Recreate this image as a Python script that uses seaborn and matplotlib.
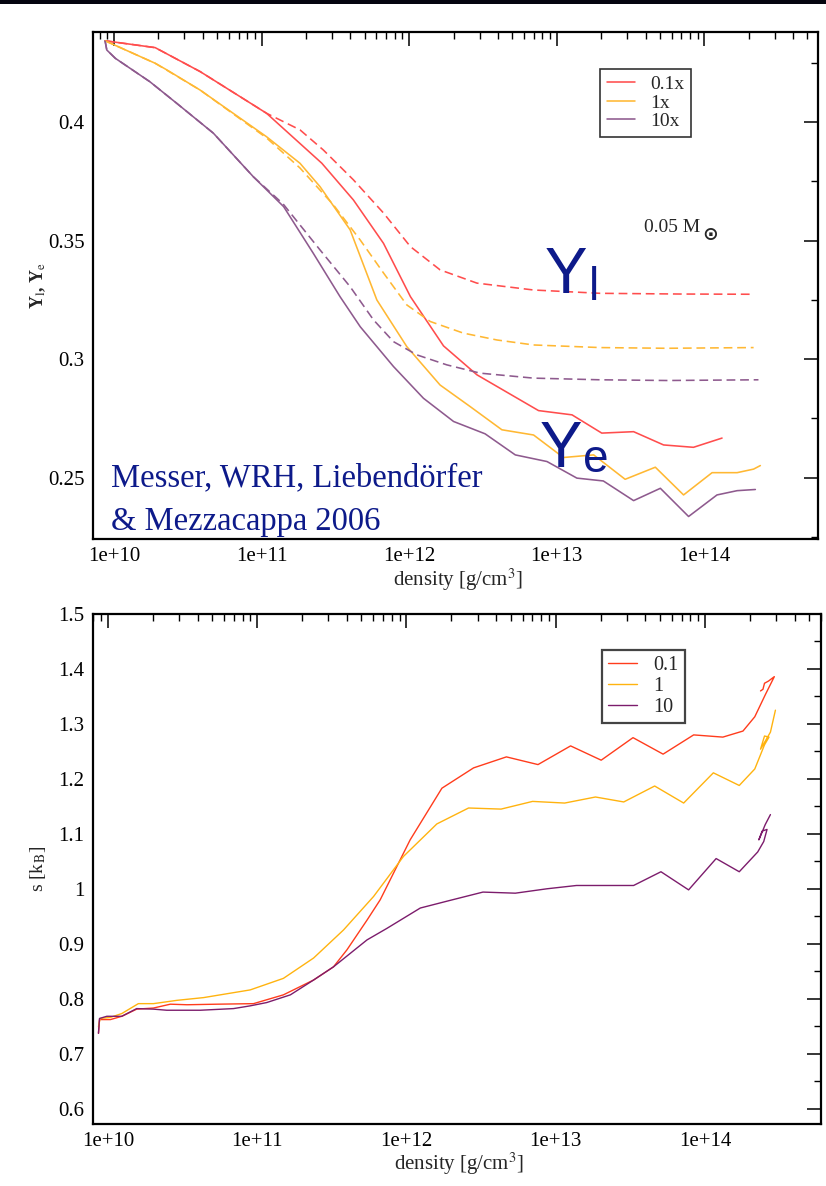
import matplotlib
matplotlib.use("Agg")
import matplotlib.pyplot as plt
from matplotlib.patches import Rectangle
from matplotlib.ticker import FixedLocator, MultipleLocator, FuncFormatter, LogLocator, NullFormatter
import numpy as np
import pandas as pd
import seaborn as sns

# ---------------- data: electron / lepton fraction vs density ----------------
ye_rho_01 = [8.69e9, 1.90e10, 3.83e10, 1.08e11, 2.56e11, 4.19e11, 6.70e11, 1.02e12, 1.71e12,
             2.88e12, 7.53e12, 1.27e13, 2.02e13, 3.32e13, 5.30e13, 8.45e13, 1.32e14]
ye_01 = [0.4344, 0.4315, 0.4214, 0.4038, 0.3827, 0.3672, 0.3489, 0.3264, 0.3056,
         0.2934, 0.2783, 0.2765, 0.2688, 0.2694, 0.2638, 0.2628, 0.2667]

yl_rho_01 = [8.69e9, 1.90e10, 3.83e10, 1.08e11, 1.82e11, 2.62e11, 4.19e11, 6.70e11, 1.02e12,
             1.62e12, 2.88e12, 6.97e12, 1.97e13, 6.87e13, 2.16e14]
yl_01 = [0.4344, 0.4315, 0.4214, 0.4038, 0.3968, 0.3883, 0.3757, 0.3617, 0.3475,
         0.3377, 0.3321, 0.3292, 0.3278, 0.3275, 0.3274]

ye_rho_1 = [8.69e9, 1.90e10, 2.28e10, 3.83e10, 1.08e11, 1.82e11, 2.49e11, 3.98e11, 6.04e11,
            9.64e11, 1.62e12, 2.59e12, 4.25e12, 6.97e12, 1.11e13, 1.78e13, 2.91e13, 4.66e13,
            7.24e13, 1.13e14, 1.67e14, 2.16e14, 2.40e14]
ye_1 = [0.4344, 0.4249, 0.4221, 0.4136, 0.3939, 0.3827, 0.3728, 0.3546, 0.3250,
        0.3053, 0.2891, 0.2800, 0.2702, 0.2680, 0.2585, 0.2596, 0.2493, 0.2544,
        0.2427, 0.2521, 0.2521, 0.2536, 0.2551]

yl_rho_1 = [8.69e9, 1.90e10, 3.83e10, 1.08e11, 1.82e11, 3.07e11, 4.66e11, 6.70e11, 9.64e11,
            1.39e12, 2.33e12, 3.94e12, 6.97e12, 1.97e13, 5.58e13, 2.16e14]
yl_1 = [0.4344, 0.4249, 0.4136, 0.3934, 0.3807, 0.3651, 0.3503, 0.3364, 0.3229,
        0.3159, 0.3110, 0.3081, 0.3060, 0.3049, 0.3046, 0.3049]

ye_rho_10 = [8.69e9, 8.93e9, 1.02e10, 1.75e10, 2.66e10, 4.71e10, 8.79e10, 1.41e11, 2.24e11,
             3.40e11, 4.66e11, 7.83e11, 1.25e12, 2.00e12, 3.27e12, 5.24e12, 8.59e12, 1.37e13,
             2.07e13, 3.32e13, 5.04e13, 7.83e13, 1.22e14, 1.67e14, 2.22e14]
ye_10 = [0.4344, 0.4305, 0.4270, 0.4171, 0.4080, 0.3954, 0.3770, 0.3644, 0.3447,
         0.3264, 0.3137, 0.2969, 0.2835, 0.2737, 0.2685, 0.2596, 0.2568, 0.2498,
         0.2486, 0.2403, 0.2455, 0.2336, 0.2427, 0.2445, 0.2450]

yl_rho_10 = [8.69e9, 8.93e9, 1.02e10, 1.75e10, 2.66e10, 4.71e10, 8.79e10, 1.40e11, 2.49e11,
             3.98e11, 5.73e11, 7.83e11, 1.13e12, 1.80e12, 3.03e12, 6.97e12, 1.97e13, 5.58e13,
             2.33e14]
yl_10 = [0.4344, 0.4305, 0.4270, 0.4171, 0.4080, 0.3954, 0.3770, 0.3655, 0.3461,
         0.3306, 0.3166, 0.3074, 0.3018, 0.2976, 0.2941, 0.2920, 0.2913, 0.2910, 0.2913]

# ---------------- data: entropy vs density ----------------
s_rho_01 = [8.65e9, 8.79e9, 1.04e10, 1.24e10, 1.56e10, 2.02e10, 2.62e10, 3.39e10, 5.38e10,
            9.46e10, 1.50e11, 2.39e11, 3.25e11, 4.00e11, 5.45e11, 6.68e11, 1.06e12, 1.73e12,
            2.82e12, 4.68e12, 7.62e12, 1.26e13, 2.02e13, 3.30e13, 5.25e13, 8.41e13, 1.32e14,
            1.80e14, 2.16e14, 2.55e14, 2.92e14, 2.67e14, 2.51e14, 2.45e14, 2.36e14]
s_01 = [0.737, 0.762, 0.762, 0.768, 0.781, 0.783, 0.790, 0.789, 0.790,
        0.791, 0.807, 0.834, 0.858, 0.889, 0.943, 0.980, 1.089, 1.183,
        1.220, 1.240, 1.226, 1.260, 1.234, 1.275, 1.245, 1.280, 1.276,
        1.287, 1.313, 1.354, 1.386, 1.378, 1.374, 1.363, 1.360]

s_rho_1 = [8.65e9, 8.87e9, 1.04e10, 1.24e10, 1.60e10, 2.02e10, 2.90e10, 4.38e10, 5.66e10,
           8.99e10, 1.50e11, 2.39e11, 3.79e11, 6.03e11, 9.57e11, 1.60e12, 2.61e12, 4.31e12,
           7.01e12, 1.15e13, 1.85e13, 2.86e13, 4.61e13, 7.21e13, 1.14e14, 1.70e14, 2.16e14,
           2.51e14, 2.69e14, 2.51e14, 2.36e14, 2.58e14, 2.75e14, 2.97e14]
s_1 = [0.749, 0.764, 0.766, 0.773, 0.791, 0.791, 0.797, 0.802, 0.807,
       0.816, 0.837, 0.874, 0.925, 0.986, 1.059, 1.118, 1.147, 1.145,
       1.159, 1.156, 1.167, 1.158, 1.187, 1.156, 1.211, 1.188, 1.218,
       1.262, 1.276, 1.278, 1.254, 1.272, 1.285, 1.325]

s_rho_10 = [8.65e9, 8.79e9, 9.84e9, 1.24e10, 1.56e10, 2.02e10, 2.48e10, 4.16e10, 6.95e10,
            8.99e10, 1.16e11, 1.67e11, 2.39e11, 3.25e11, 5.45e11, 7.41e11, 1.24e12, 1.97e12,
            3.26e12, 5.37e12, 8.75e12, 1.38e13, 3.33e13, 5.08e13, 7.78e13, 1.19e14, 1.70e14,
            2.26e14, 2.48e14, 2.61e14, 2.42e14, 2.30e14, 2.54e14, 2.75e14]
s_10 = [0.737, 0.764, 0.768, 0.768, 0.782, 0.781, 0.779, 0.779, 0.782,
        0.787, 0.793, 0.807, 0.834, 0.858, 0.907, 0.928, 0.965, 0.979,
        0.994, 0.992, 1.000, 1.006, 1.006, 1.031, 0.998, 1.055, 1.031,
        1.067, 1.086, 1.108, 1.105, 1.089, 1.117, 1.135]

top_labels = ["0.1x", "1x", "10x"]
bottom_labels = ["0.1", "1", "10"]

# ---------------- style ----------------
sns.set_theme(style="white")
plt.rcParams["font.family"] = ["Liberation Serif", "DejaVu Serif"]
plt.rcParams["mathtext.fontset"] = "stix"

top_colors = ["#ff4d4d", "#ffb833", "#8e5a8e"]
bot_colors = ["#ff3c1c", "#ffb30f", "#7c1c6c"]
NAVY = "#0d1a8a"

W, H = 826, 1186
fig = plt.figure(figsize=(W / 100, H / 100), dpi=100)
fig.patch.set_facecolor("white")

ax1 = fig.add_axes([93 / W, 1 - 539 / H, 725 / W, 507 / H])
ax2 = fig.add_axes([93 / W, 1 - 1124 / H, 728 / W, 510 / H])

for ax in (ax1, ax2):
    ax.set_xscale("log")


def curve(ax, rho, val, color, lw, label=None, dashed=False):
    df = pd.DataFrame({"rho": rho, "val": val})
    kws = dict(linestyle=(0, (5.5, 3.0))) if dashed else {}
    sns.lineplot(data=df, x="rho", y="val", sort=False, estimator=None, color=color,
                 linewidth=lw, ax=ax, label=label, legend=False, **kws)


# top panel: solid = Y_e, dashed = Y_l
for rho, val, c, lab in zip([ye_rho_01, ye_rho_1, ye_rho_10], [ye_01, ye_1, ye_10],
                            top_colors, top_labels):
    curve(ax1, rho, val, c, 1.15, label=lab)
for rho, val, c in zip([yl_rho_01, yl_rho_1, yl_rho_10], [yl_01, yl_1, yl_10], top_colors):
    curve(ax1, rho, val, c, 1.15, dashed=True)

# bottom panel: entropy
for rho, val, c, lab in zip([s_rho_01, s_rho_1, s_rho_10], [s_01, s_1, s_10],
                            bot_colors, bottom_labels):
    curve(ax2, rho, val, c, 1.0, label=lab)

# ---------------- axes ----------------
ax1.set_xlim(7.2e9, 5.9e14)
ax1.set_ylim(0.2241, 0.4381)
ax2.set_xlim(7.95e9, 6.0e14)
ax2.set_ylim(0.572, 1.5)

dec = FuncFormatter(lambda v, p: "1e+%d" % int(round(np.log10(v))))
for ax in (ax1, ax2):
    ax.xaxis.set_major_locator(FixedLocator([1e10, 1e11, 1e12, 1e13, 1e14]))
    ax.xaxis.set_major_formatter(dec)
    ax.xaxis.set_minor_locator(LogLocator(base=10, subs=np.arange(2, 10), numticks=20))
    ax.xaxis.set_minor_formatter(NullFormatter())
    ax.tick_params(which="both", direction="in", top=True, right=True,
                   labelsize=15, pad=6, colors="black")
    ax.tick_params(which="major", length=10, width=1.1)
    ax.tick_params(which="minor", length=5, width=1.0)
    for sp in ax.spines.values():
        sp.set_linewidth(1.6)
        sp.set_color("black")
    ax.grid(False)
    ax.set_facecolor("white")

ax1.yaxis.set_major_locator(MultipleLocator(0.05))
ax1.yaxis.set_minor_locator(MultipleLocator(0.025))
ax2.yaxis.set_major_locator(MultipleLocator(0.1))
ax2.yaxis.set_minor_locator(MultipleLocator(0.05))
gfmt = FuncFormatter(lambda v, p: "%g" % round(v, 3))
ax1.yaxis.set_major_formatter(gfmt)
ax2.yaxis.set_major_formatter(gfmt)

ax1.set_xlabel(r"density [g/cm$^3$]", fontsize=15)
ax2.set_xlabel(r"density [g/cm$^3$]", fontsize=15)
ax1.xaxis.set_label_coords(0.503, -0.054)
ax2.xaxis.set_label_coords(0.503, -0.052)
ax1.set_ylabel(r"Y$_{\rm l}$, Y$_{\rm e}$", fontsize=13, fontweight="bold")
ax1.yaxis.set_label_coords(-0.062, 0.5)
ax2.set_ylabel(r"s [k$_{\rm B}$]", fontsize=14)
ax2.yaxis.set_label_coords(-0.062, 0.5)

# legends
leg1 = ax1.legend(loc="upper left", bbox_to_anchor=(0.700, 0.9276), fontsize=14,
                  frameon=True, fancybox=False, framealpha=1, edgecolor="#333333",
                  handlelength=1.45, handletextpad=0.75, labelspacing=0.05,
                  borderpad=0.35, borderaxespad=0)
leg1.get_frame().set_linewidth(1.2)
leg2 = ax2.legend(loc="upper left", bbox_to_anchor=(0.699, 0.9294), fontsize=14.5,
                  frameon=True, fancybox=False, framealpha=1, edgecolor="#444444",
                  handlelength=1.45, handletextpad=0.8, labelspacing=0.1,
                  borderpad=0.3, borderaxespad=0)
leg2.get_frame().set_linewidth(1.6)


# ---------------- annotations ----------------
def fx(px):
    return px / W


def fy(py):
    return 1 - py / H


fig.text(fx(111), fy(486), "Messer, WRH, Liebendörfer", color=NAVY, fontsize=23.5,
         ha="left", va="baseline")
fig.text(fx(111), fy(530), "& Mezzacappa 2006", color=NAVY, fontsize=23.5,
         ha="left", va="baseline")

fig.text(fx(644), fy(227), "0.05 M", fontsize=14, ha="left", va="center")
fig.text(fx(702), fy(234), "\u2299", fontsize=13.5, fontweight="bold", ha="left", va="center",
         family=["DejaVu Sans"])

sans = ["Liberation Sans", "DejaVu Sans"]
fig.text(fx(545), fy(293), "Y", color=NAVY, fontsize=46, ha="left", va="baseline", family=sans)
fig.text(fx(589), fy(300), "l", color=NAVY, fontsize=33, ha="left", va="baseline", family=sans)
fig.text(fx(540), fy(467), "Y", color=NAVY, fontsize=46, ha="left", va="baseline", family=sans)
fig.text(fx(583), fy(472), "e", color=NAVY, fontsize=33, ha="left", va="baseline", family=sans)

# dark band along the top edge
fig.patches.append(Rectangle((0, 1 - 4 / H), 1, 4 / H, transform=fig.transFigure,
                             facecolor="#05050f", edgecolor="none", zorder=10))

fig.savefig("out.png", dpi=100)
